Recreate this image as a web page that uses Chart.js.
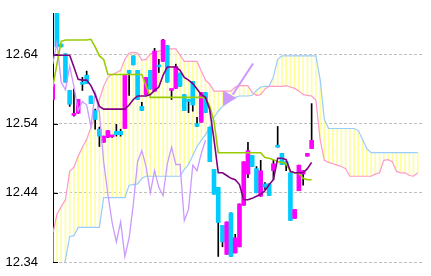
<!DOCTYPE html>
<html lang="ja">
<head>
<meta charset="UTF-8">
<title>一目均衡表</title>
<script src="https://cdn.jsdelivr.net/npm/chart.js"></script>
<style>
  body { margin: 0; background: #fff; }
  #wrap { position: relative; width: 431px; height: 276px; }
</style>
</head>
<body>
<div id="wrap"><canvas id="chart"></canvas></div>
<script>
// ローソク足 (62本)
const opens = [12.575,12.710,12.655,12.641,12.588,12.552,12.555,12.600,12.610,12.580,
  12.559,12.532,12.513,12.520,12.521,12.529,12.529,12.533,12.617,12.638,
  12.617,12.565,12.582,12.617,12.587,12.625,12.630,12.653,12.588,12.591,
  12.613,12.582,12.575,12.601,12.540,12.542,12.585,12.535,12.474,12.448,
  12.393,12.351,12.411,12.353,12.362,12.422,12.467,12.494,12.475,12.435,
  12.453,12.453,12.472,12.507,12.497,12.485,12.469,12.403,12.443,12.467,
  12.493,12.504];
const highs = [12.597,12.712,12.655,12.641,12.588,12.590,12.575,12.607,12.616,12.580,
  12.561,12.535,12.522,12.530,12.523,12.539,12.532,12.611,12.617,12.638,
  12.617,12.571,12.607,12.617,12.649,12.633,12.662,12.653,12.589,12.626,
  12.613,12.582,12.575,12.601,12.549,12.585,12.585,12.535,12.474,12.448,
  12.393,12.398,12.411,12.380,12.424,12.485,12.513,12.494,12.478,12.487,
  12.455,12.453,12.487,12.536,12.497,12.485,12.469,12.416,12.480,12.472,
  12.497,12.569];
const lows = [12.575,12.651,12.651,12.600,12.565,12.551,12.555,12.588,12.598,12.569,
  12.532,12.507,12.513,12.520,12.520,12.522,12.522,12.533,12.581,12.625,
  12.575,12.559,12.582,12.590,12.587,12.614,12.630,12.600,12.575,12.591,
  12.594,12.559,12.556,12.558,12.536,12.542,12.556,12.485,12.438,12.348,
  12.362,12.351,12.348,12.353,12.362,12.422,12.462,12.478,12.440,12.435,
  12.445,12.436,12.459,12.506,12.481,12.472,12.400,12.403,12.443,12.451,
  12.493,12.504];
const closes = [12.597,12.651,12.651,12.600,12.568,12.553,12.575,12.597,12.598,12.569,
  12.546,12.522,12.522,12.530,12.522,12.524,12.524,12.611,12.613,12.625,
  12.575,12.559,12.607,12.590,12.645,12.622,12.661,12.600,12.589,12.623,
  12.594,12.559,12.572,12.567,12.536,12.585,12.556,12.485,12.438,12.397,
  12.369,12.398,12.348,12.375,12.424,12.485,12.501,12.478,12.440,12.472,
  12.448,12.436,12.482,12.506,12.481,12.481,12.400,12.416,12.480,12.472,
  12.497,12.516];

// 転換線
const tenkan = [12.639,12.639,12.639,12.639,12.639,12.622,12.604,12.603,12.603,12.595,
  12.582,12.565,12.561,12.561,12.561,12.561,12.561,12.561,12.567,12.575,
  12.580,12.580,12.580,12.582,12.588,12.593,12.610,12.622,12.622,12.622,
  12.617,12.607,12.603,12.598,12.590,12.582,12.578,12.560,12.517,12.469,
  12.469,12.465,12.461,12.459,12.452,12.430,12.430,12.432,12.435,12.438,
  12.443,12.452,12.459,12.490,12.490,12.488,12.471,12.469,12.469,12.469,
  12.475,12.484];
// 基準線
const kijun = [12.593,12.626,12.659,12.661,12.661,12.661,12.661,12.661,12.661,12.662,
  12.651,12.638,12.633,12.611,12.611,12.611,12.611,12.611,12.611,12.611,
  12.611,12.611,12.595,12.578,12.578,12.578,12.578,12.578,12.578,12.578,
  12.578,12.578,12.578,12.578,12.578,12.578,12.577,12.565,12.543,12.498,
  12.498,12.498,12.498,12.498,12.498,12.498,12.498,12.498,12.498,12.498,
  12.491,12.490,12.488,12.485,12.484,12.482,12.471,12.469,12.468,12.461,
  12.459,12.459];
// 先行スパン1 (87本)
const senkouA = [12.380,12.409,12.420,12.430,12.471,12.477,12.493,12.506,12.517,12.535,
  12.549,12.575,12.594,12.607,12.611,12.614,12.617,12.633,12.642,12.643,
  12.642,12.632,12.633,12.641,12.643,12.645,12.646,12.648,12.648,12.648,
  12.639,12.630,12.630,12.630,12.630,12.616,12.603,12.597,12.587,12.587,
  12.587,12.587,12.587,12.593,12.595,12.595,12.595,12.585,12.581,12.582,
  12.590,12.594,12.594,12.594,12.594,12.595,12.593,12.591,12.587,12.582,
  12.581,12.580,12.574,12.517,12.487,12.484,12.482,12.480,12.478,12.475,
  12.464,12.464,12.464,12.464,12.464,12.464,12.467,12.469,12.487,12.488,
  12.485,12.471,12.469,12.469,12.465,12.464,12.469];
// 先行スパン2 (87本)
const senkouB = [12.314,12.317,12.326,12.343,12.377,12.378,12.390,12.390,12.390,12.390,
  12.390,12.390,12.433,12.433,12.433,12.433,12.433,12.433,12.451,12.452,
  12.453,12.461,12.464,12.464,12.464,12.464,12.464,12.464,12.464,12.464,
  12.464,12.474,12.481,12.494,12.507,12.516,12.524,12.535,12.549,12.558,
  12.565,12.569,12.574,12.578,12.580,12.580,12.580,12.581,12.588,12.593,
  12.594,12.594,12.608,12.633,12.638,12.638,12.638,12.638,12.638,12.638,
  12.638,12.638,12.638,12.604,12.546,12.533,12.533,12.533,12.533,12.533,
  12.533,12.533,12.530,12.517,12.504,12.498,12.498,12.498,12.498,12.498,
  12.498,12.498,12.498,12.498,12.498,12.498,12.498];
// 遅行スパン
const chikou = [12.626,12.657,12.600,12.589,12.623,12.594,12.559,12.572,12.567,12.536,
  12.585,12.556,12.485,12.438,12.397,12.369,12.398,12.348,12.375,12.424,
  12.485,12.501,12.478,12.440,12.472,12.448,12.436,12.482,12.506,12.481,
  12.481,12.400,12.416,12.480,12.472,12.497,12.516];

// 矢印
const arrowX = [47.2, 42.4];
const arrowY = [12.627, 12.582];
const arrowHead = { x: 41.2, y: 12.577 };

const yTicks = [12.34, 12.44, 12.54, 12.64];

const UP = '#ff00ff', DOWN = '#00ccff';

const pts = arr => arr.map((v, i) => ({ x: i, y: v }));

const hatch = senkouA.map((a, i) => ({ x: i, y: [Math.min(a, senkouB[i]), Math.max(a, senkouB[i])] }));
const wicks = highs.map((h, i) => ({ x: i, y: [lows[i], h] }));
const bodies = opens.map((o, i) => ({ x: i, y: [Math.min(o, closes[i]), Math.max(o, closes[i])] }));
const bodyColors = opens.map((o, i) => closes[i] >= o ? UP : DOWN);

const tickMarks = {
  id: 'tickMarks',
  beforeDatasetsDraw(chart) {
    const { ctx, chartArea } = chart;
    const y = chart.scales.y;
    ctx.save();
    ctx.strokeStyle = '#000';
    ctx.lineWidth = 1;
    y.ticks.forEach(t => {
      const py = Math.round(y.getPixelForValue(t.value)) + 0.5;
      ctx.beginPath();
      ctx.moveTo(chartArea.left, py);
      ctx.lineTo(chartArea.left + 5, py);
      ctx.stroke();
    });
    ctx.restore();
  }
};

const lineBase = { type: 'line', pointRadius: 0, tension: 0, fill: false };

new Chart(document.getElementById('chart'), {
  type: 'bar',
  data: {
    datasets: [
      { label: 'cloud', data: hatch, backgroundColor: '#ffff99', barThickness: 1, order: 10 },
      { ...lineBase, label: '先行スパン1', data: pts(senkouA), borderColor: '#ff99cc', borderWidth: 1.2, order: 9 },
      { ...lineBase, label: '先行スパン2', data: pts(senkouB), borderColor: '#99ccff', borderWidth: 1.2, order: 9 },
      { label: 'wick', data: wicks, backgroundColor: '#000', barThickness: 1, order: 8 },
      { label: 'body', data: bodies, backgroundColor: bodyColors, barThickness: 4, minBarLength: 2, order: 7 },
      { ...lineBase, label: '遅行スパン', data: pts(chikou), borderColor: '#cc99ff', borderWidth: 1.3, order: 5 },
      { ...lineBase, label: '基準線', data: pts(kijun), borderColor: '#99cc00', borderWidth: 1.6, order: 4 },
      { ...lineBase, label: '転換線', data: pts(tenkan), borderColor: '#800080', borderWidth: 1.6, order: 3 },
      { ...lineBase, label: 'arrow', data: arrowX.map((x, i) => ({ x, y: arrowY[i] })), borderColor: '#cc99ff', borderWidth: 2, order: 1 },
      { ...lineBase, label: 'arrowHead', data: [arrowHead], showLine: false, pointRadius: 8, pointStyle: 'triangle',
        rotation: 90, pointBackgroundColor: '#cc99ff', pointBorderColor: '#cc99ff', order: 1 }
    ]
  },
  options: {
    responsive: true,
    maintainAspectRatio: false,
    animation: false,
    devicePixelRatio: 1,
    layout: { padding: { top: 13, bottom: 14, left: 0, right: 0 } },
    plugins: { legend: { display: false }, tooltip: { enabled: false } },
    datasets: { bar: { grouped: false, borderWidth: 0 } },
    scales: {
      x: { type: 'linear', min: 0.07, max: 87, offset: false, display: false },
      y: {
        min: 12.34, max: 12.70,
        afterBuildTicks: axis => { axis.ticks = yTicks.map(v => ({ value: v })); },
        afterFit: axis => { axis.width = 53; axis.paddingTop = 0; axis.paddingBottom = 0; },
        border: { display: true, color: '#000', width: 1, dash: [3, 2] },
        grid: { color: '#c0c0c0', drawTicks: false, lineWidth: 1 },
        ticks: {
          color: '#000', padding: 15,
          font: { family: "'Liberation Sans Narrow', 'Liberation Sans', sans-serif", size: 13 },
          callback: v => v.toFixed(2)
        }
      }
    }
  },
  plugins: [tickMarks]
});
</script>
</body>
</html>
